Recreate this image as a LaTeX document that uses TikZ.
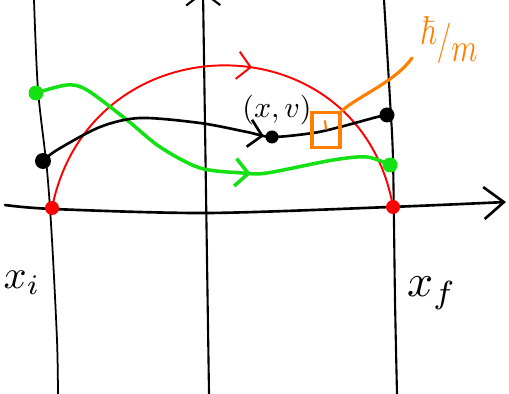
\documentclass[tikz,border=0pt]{standalone}
\usepackage{amsmath,amssymb}
\usetikzlibrary{arrows.meta,decorations.markings}

\definecolor{sketchred}{RGB}{255,0,0}
\definecolor{sketchgreen}{RGB}{20,225,20}
\definecolor{sketchorange}{RGB}{255,128,0}

\begin{document}
\begin{tikzpicture}[x=0.02cm, y=-0.02cm,
  curve/.style={line width=1.5pt, line cap=round, line join=round},
  dot/.style={circle, fill, inner sep=0pt, minimum size=#1},
  flow/.style={postaction={decorate, decoration={markings,
    mark=at position #1 with {\arrow{Straight Barb[length=2.6mm, width=5.5mm]}}}}}]
	\useasboundingbox (0,0) rectangle (509,394);
	\clip (0,0) rectangle (509,394);
	\draw[curve, line width=1pt] plot[smooth] coordinates {(34,0) (38,90) (47,170) (52,240) (57,340) (58,394)};
	\draw[curve, line width=1.2pt] plot[smooth] coordinates {(384,0) (390,100) (393,160) (395,300) (397,394)};
	\draw[curve, line width=1.2pt, -{Straight Barb[length=2.6mm, width=6.8mm]}] (209,394) -- (203,-9);
	\draw[curve, -{Straight Barb[length=4mm, width=6.4mm]}] plot[smooth] coordinates {(5,205) (53,209) (207,213) (390,207) (506,202)};
	\coordinate (r0) at (52,208);
	\coordinate (r1) at (393,207);
	\coordinate (g0) at (36,93);
	\coordinate (g1) at (390,165);
	\coordinate (k0) at (43,161);
	\coordinate (kx) at (272,137);
	\coordinate (k1) at (387,115);
	\draw[curve, sketchred, line width=1.1pt, flow=0.56] (r0) .. controls (90,18) and (360,18) .. (r1);
	\draw[curve, sketchgreen, line width=2pt, flow=0.63] plot[smooth] coordinates {(g0) (67,85) (87,90) (127,120) (160,147) (200,168) (243,173) (267,173) (333,160) (367,157) (g1)};
	\draw[curve, flow=0.65] plot[smooth] coordinates {(k0) (57,150) (100,127) (140,118) (200,123) (247,132) (kx) (313,133) (340,127) (377,117) (k1)};
	\node[dot=2.8mm, sketchred] (rdot0) at (r0) {};
	\node[dot=2.8mm, sketchred] (rdot1) at (r1) {};
	\node[dot=3mm, sketchgreen] (gdot0) at (g0) {};
	\node[dot=3mm, sketchgreen] (gdot1) at (g1) {};
	\node[dot=3.2mm] (kdot0) at (k0) {};
	\node[dot=2.6mm] (kdotx) at (kx) {};
	\node[dot=3mm] (kdot1) at (k1) {};
	\node[scale=1.7] (xv) at (277,110) {$(x,v)$};
	\node[draw=sketchorange, line width=1.8pt, minimum width=0.56cm, minimum height=0.7cm, inner sep=0pt] (cell) at (326,130) {};
	\draw[sketchorange, line width=1.2pt, line cap=round] (325,121) -- (326,129);
	\coordinate (tail) at (412,58);
	\draw[curve, sketchorange, line width=1.8pt] (cell.north east) .. controls (360,95) and (395,82) .. (tail);
	\node[sketchorange, xscale=1.7, yscale=2.3] (hm) at (449,40) {$\raisebox{0.5ex}{$\hbar$}/\raisebox{-0.5ex}{$m$}$};
	\node[scale=2.3] (xi) at (22,283) {$x_i$};
	\node[scale=2.6] (xf) at (432,293) {$x_f$};
\end{tikzpicture}
\end{document}
